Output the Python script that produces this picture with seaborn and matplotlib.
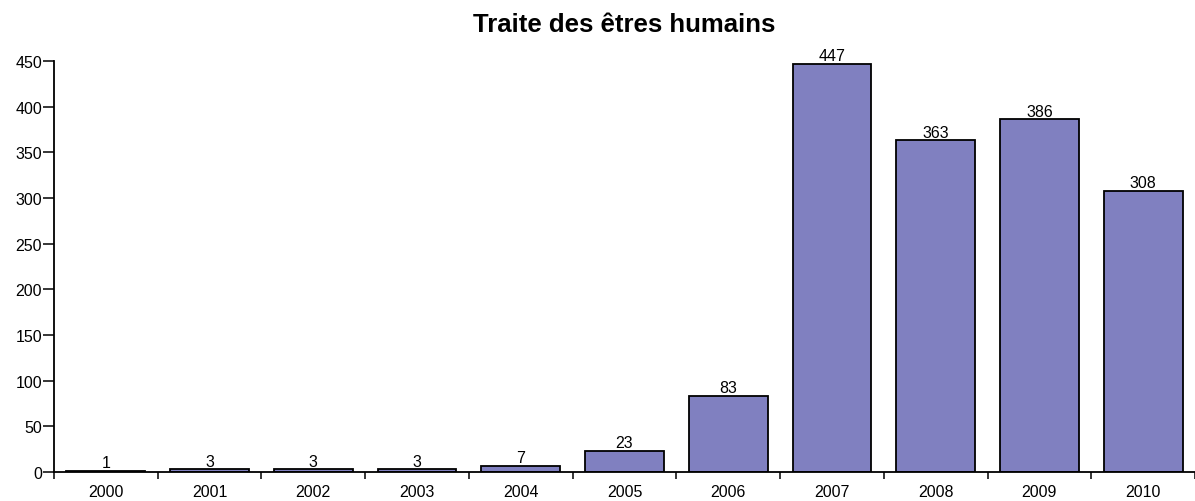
import numpy as np
import pandas as pd
import matplotlib
matplotlib.use("Agg")
import matplotlib.pyplot as plt
from matplotlib.ticker import FixedLocator
import seaborn as sns

years = ["2000", "2001", "2002", "2003", "2004", "2005", "2006", "2007", "2008", "2009", "2010"]
counts = [1, 3, 3, 3, 7, 23, 83, 447, 363, 386, 308]
y_ticks = [0, 50, 100, 150, 200, 250, 300, 350, 400, 450]

sns.set_style("ticks")
plt.rcParams["font.family"] = ["Liberation Sans", "DejaVu Sans"]
plt.rcParams["text.color"] = "black"
plt.rcParams["xtick.color"] = "black"
plt.rcParams["ytick.color"] = "black"

df = pd.DataFrame({"annee": years, "nombre": counts})

fig = plt.figure(figsize=(11.95, 5.02), dpi=100)
ax = fig.add_axes([54 / 1195, 29 / 502, 1 - 54 / 1195, (473 - 62) / 502])

sns.barplot(data=df, x="annee", y="nombre", color="#8080c0", saturation=1,
            edgecolor="black", linewidth=1.3, width=0.76, ax=ax)

ax.set_xlim(-0.5, len(years) - 0.5)
ax.set_ylim(0, 450)
ax.set_yticks(y_ticks)
ax.set_xlabel("")
ax.set_ylabel("")

# category boundaries carry the visible ticks
ax.xaxis.set_minor_locator(FixedLocator(np.arange(-0.5, len(years), 1.0)))
ax.tick_params(axis="x", which="major", length=0, pad=9, labelsize=11.5, labelcolor="black")
ax.tick_params(axis="x", which="minor", length=5, width=1.1, color="black", direction="out")
ax.tick_params(axis="y", length=8, width=1.1, pad=0.5, labelsize=11.5, color="black",
               labelcolor="black")

for side in ("top", "right"):
    ax.spines[side].set_visible(False)
for side in ("left", "bottom"):
    ax.spines[side].set_color("black")
    ax.spines[side].set_linewidth(1.3)

for i, v in enumerate(counts):
    ax.annotate(str(v), (i, v), xytext=(0, 0.5), textcoords="offset points",
                ha="center", va="bottom", fontsize=11.5, color="black")

fig.text((54 + 1195) / 2 / 1195, 1 - 32 / 502, "Traite des êtres humains",
         ha="center", va="baseline", fontsize=18.5, fontweight="bold", color="black")

fig.savefig("out.png", dpi=100, facecolor="white")
